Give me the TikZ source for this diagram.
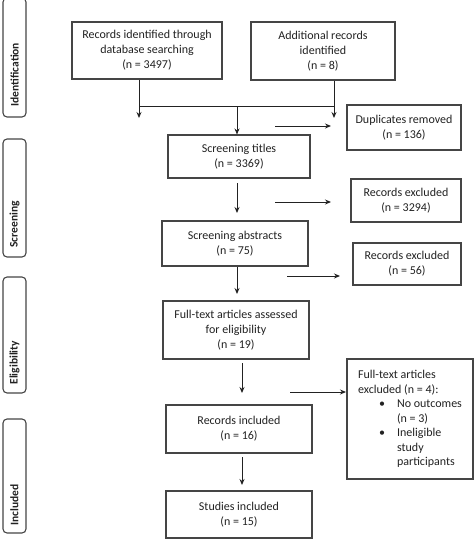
\documentclass[tikz,border=0pt]{standalone}
\usepackage{fontspec}
\setmainfont{Carlito}
\usetikzlibrary{arrows.meta}
\definecolor{edge}{HTML}{454545}
\definecolor{ink}{HTML}{222222}
\tikzset{
  box/.style={draw=edge, line width=1.1pt, fill=white, text=ink, align=center,
    font=\fontsize{12}{15}\selectfont, inner sep=2pt},
  side/.style={draw=edge, line width=1.1pt, fill=white, rounded corners=4pt, text=ink},
  sidelabel/.style={rotate=90, anchor=west, font=\fontsize{11.5}{13}\selectfont\bfseries, text=ink},
  arr/.style={draw=ink, line width=0.9pt, -{Stealth[length=6pt,width=5pt]}},
  ln/.style={draw=ink, line width=0.9pt}
}
\begin{document}
\begin{tikzpicture}[x=1pt,y=-1pt]
\useasboundingbox (0,0) rectangle (474,539);
% side phase boxes
\node[side, minimum width=23pt, minimum height=119pt] (sid) at (14.5,57.5) {};
\node[sidelabel] (lid) at (14.5,110) {Identification};
\node[side, minimum width=23pt, minimum height=118pt] (ssc) at (14.5,198) {};
\node[sidelabel] (lsc) at (14.5,251) {Screening};
\node[side, minimum width=23pt, minimum height=116pt] (sel) at (14.5,335) {};
\node[sidelabel] (lel) at (14.5,388) {Eligibility};
\node[side, minimum width=23pt, minimum height=114pt] (sin) at (14.5,476) {};
\node[sidelabel] (lin) at (14.5,529) {Included};
% main boxes
\node[box, minimum width=150pt, minimum height=57pt] (rec1) at (147,50.5)
  {Records identified through\\database searching\\(n = 3497)};
\node[box, minimum width=144pt, minimum height=58pt] (rec2) at (323,51)
  {Additional records\\identified\\(n = 8)};
\node[box, minimum width=114pt, minimum height=45pt] (dup) at (404,127.5)
  {Duplicates removed\\(n = 136)};
\node[box, minimum width=142pt, minimum height=43pt] (tit) at (239,156.5)
  {Screening titles\\(n = 3369)};
\node[box, minimum width=110pt, minimum height=43pt] (ex1) at (406,200.5)
  {Records excluded\\(n = 3294)};
\node[box, minimum width=146pt, minimum height=45pt] (abs) at (235,243.5)
  {Screening abstracts\\(n = 75)};
\node[box, minimum width=108pt, minimum height=42pt] (ex2) at (407,264)
  {Records excluded\\(n = 56)};
\node[box, minimum width=146pt, minimum height=58pt] (ful) at (236,330)
  {Full-text articles assessed\\for eligibility\\(n = 19)};
\node[box, minimum width=126pt, minimum height=120pt, align=left,
      font=\fontsize{12}{14.5}\selectfont] (ex3) at (410,419)
  {Full-text articles\\
   excluded (n = 4):\\
   \hspace*{21pt}\makebox[18pt][l]{•}No outcomes\\
   \hspace*{39pt}(n = 3)\\
   \hspace*{21pt}\makebox[18pt][l]{•}Ineligible\\
   \hspace*{39pt}study\\
   \hspace*{39pt}participants};
\node[box, minimum width=146pt, minimum height=48pt] (inc) at (239,429)
  {Records included\\(n = 16)};
\node[box, minimum width=146pt, minimum height=47pt] (stu) at (239,514.5)
  {Studies included\\(n = 15)};
% connector points
\coordinate (j1) at (139,106);
\coordinate (j2) at (334,106);
\coordinate (j3) at (237,106);
\coordinate (t1) at (139,118);
\coordinate (t2) at (334,118);
\coordinate (h1a) at (275,126); \coordinate (h1b) at (331,126);
\coordinate (h2a) at (275,202); \coordinate (h2b) at (331,202);
\coordinate (h3a) at (287,276); \coordinate (h3b) at (340,276);
\coordinate (h4a) at (290,392); \coordinate (h4b) at (346,392);
\coordinate (v1a) at (237,183); \coordinate (v1b) at (237,213);
\coordinate (v2a) at (237,267); \coordinate (v2b) at (237,294);
\coordinate (v3a) at (242,363); \coordinate (v3b) at (242,393);
\coordinate (v4a) at (242,457); \coordinate (v4b) at (242,485);
% connectors
\draw[arr] (rec1.south -| j1) -- (t1);
\draw[arr] (rec2.south -| j2) -- (t2);
\draw[ln] (j1) -- (j2);
\draw[arr] (j3) -- (tit.north -| j3);
\draw[arr] (h1a) -- (h1b);
\draw[arr] (h2a) -- (h2b);
\draw[arr] (h3a) -- (h3b);
\draw[arr] (h4a) -- (h4b);
\draw[arr] (v1a) -- (v1b);
\draw[arr] (v2a) -- (v2b);
\draw[arr] (v3a) -- (v3b);
\draw[arr] (v4a) -- (v4b);
\end{tikzpicture}
\end{document}
